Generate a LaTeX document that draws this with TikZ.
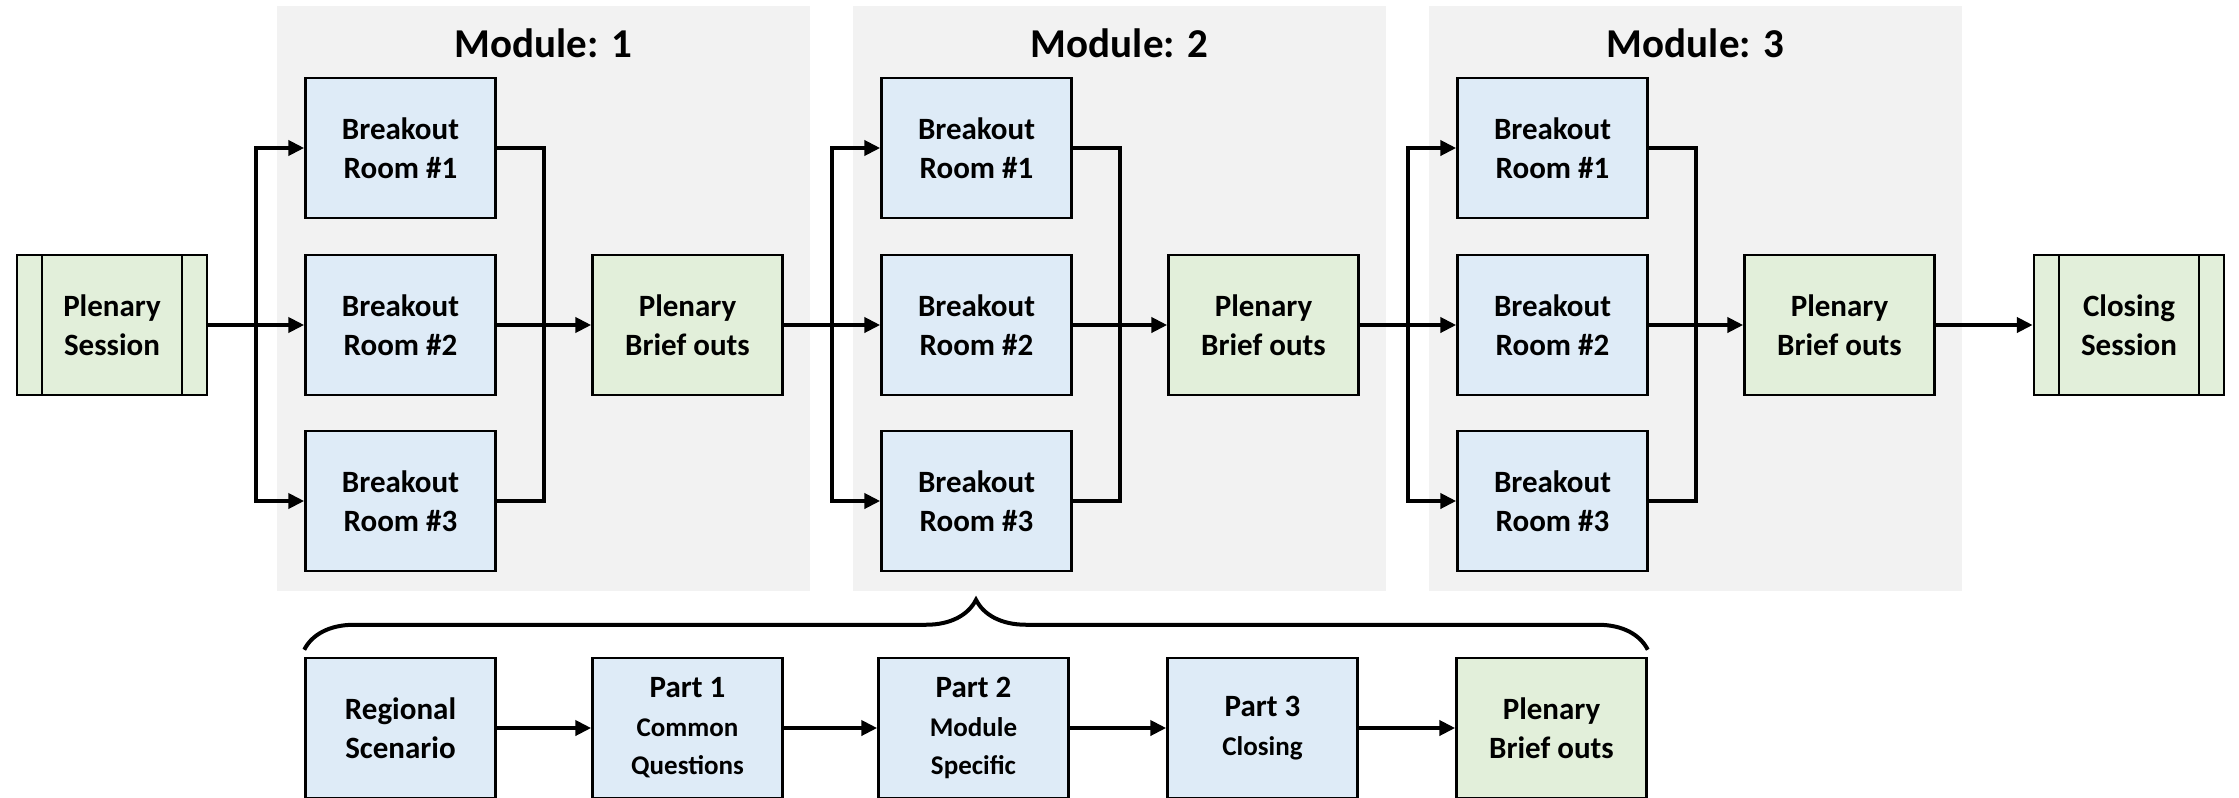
\documentclass[tikz,border=0pt]{standalone}
\usepackage{fontspec}
\setmainfont{Carlito}
\usetikzlibrary{arrows.meta,calc,decorations.pathreplacing}
\definecolor{modgray}{RGB}{242,242,242}
\definecolor{roomblue}{RGB}{222,235,247}
\definecolor{plengreen}{RGB}{226,239,218}
\newcommand\subline[1]{{\fontsize{27}{33}\selectfont #1}}
\tikzset{
  box/.style={draw,line width=2.5pt,minimum width=190pt,minimum height=140pt,
    align=center,font=\fontsize{31}{38.5}\selectfont\bfseries},
  room/.style={box,fill=roomblue},
  plen/.style={box,fill=plengreen},
  session/.style={plen,path picture={
    \draw[line width=2.5pt] ([xshift=25pt]path picture bounding box.north west) -- ([xshift=25pt]path picture bounding box.south west);
    \draw[line width=2.5pt] ([xshift=-25pt]path picture bounding box.north east) -- ([xshift=-25pt]path picture bounding box.south east);}},
  modtitle/.style={font=\fontsize{41}{49}\selectfont\bfseries},
  link/.style={line width=4pt},
  conn/.style={link,-{Triangle[length=16pt,width=15pt]}},
}
\begin{document}
\begin{tikzpicture}[x=1pt,y=-1pt]
  \clip (0,0) rectangle (2239,798);
  \useasboundingbox (0,0) rectangle (2239,798);
  \node[session] (ps) at (112,325) {Plenary\\Session};
  \foreach \m/\off/\prev in {1/0/ps,2/576/pb1,3/1152/pb2}{% one module per pass
    \fill[modgray] (277+\off,6) rectangle (810+\off,591);
    \node[modtitle] (t\m) at (543.5+\off,43) {Module: \m};
    \node[room] (b\m1) at (400.5+\off,148) {Breakout\\Room \#1};
    \node[room] (b\m2) at (400.5+\off,325) {Breakout\\Room \#2};
    \node[room] (b\m3) at (400.5+\off,501) {Breakout\\Room \#3};
    \node[plen] (pb\m) at (687.5+\off,325) {Plenary\\Brief outs};
    \coordinate (s\m) at ($(\prev.east)!.5!(b\m2.west)$);
    \coordinate (j\m) at ($(b\m2.east)!.5!(pb\m.west)$);
    \draw[conn] (\prev.east) -- (b\m2.west);
    \draw[conn] (s\m) |- (b\m1.west);
    \draw[conn] (s\m) |- (b\m3.west);
    \draw[link] (b\m1.east) -| (j\m) |- (b\m3.east);
    \draw[conn] (b\m2.east) -- (pb\m.west);
  }
  \node[session] (cs) at (2129,325) {Closing\\Session};
  \draw[conn] (pb3.east) -- (cs.west);
  % breakout room agenda
  \node[room] (rs) at (400.5,728) {Regional\\Scenario};
  \node[room] (p1) at (687.5,728) {Part 1\\\subline{Common}\\\subline{Questions}};
  \node[room] (p2) at (973.5,728) {Part 2\\\subline{Module}\\\subline{Specific}};
  \node[room] (p3) at (1262.5,728) {Part 3\\\subline{Closing}};
  \node[plen] (pbx) at (1551.5,728) {Plenary\\Brief outs};
  \foreach \a/\b in {rs/p1,p1/p2,p2/p3,p3/pbx}
    \draw[conn] (\a) -- (\b);
  \draw[link,decorate,decoration={brace,amplitude=50pt}]
    ([yshift=7pt]rs.north west) -- ([yshift=7pt]pbx.north east);
\end{tikzpicture}
\end{document}
